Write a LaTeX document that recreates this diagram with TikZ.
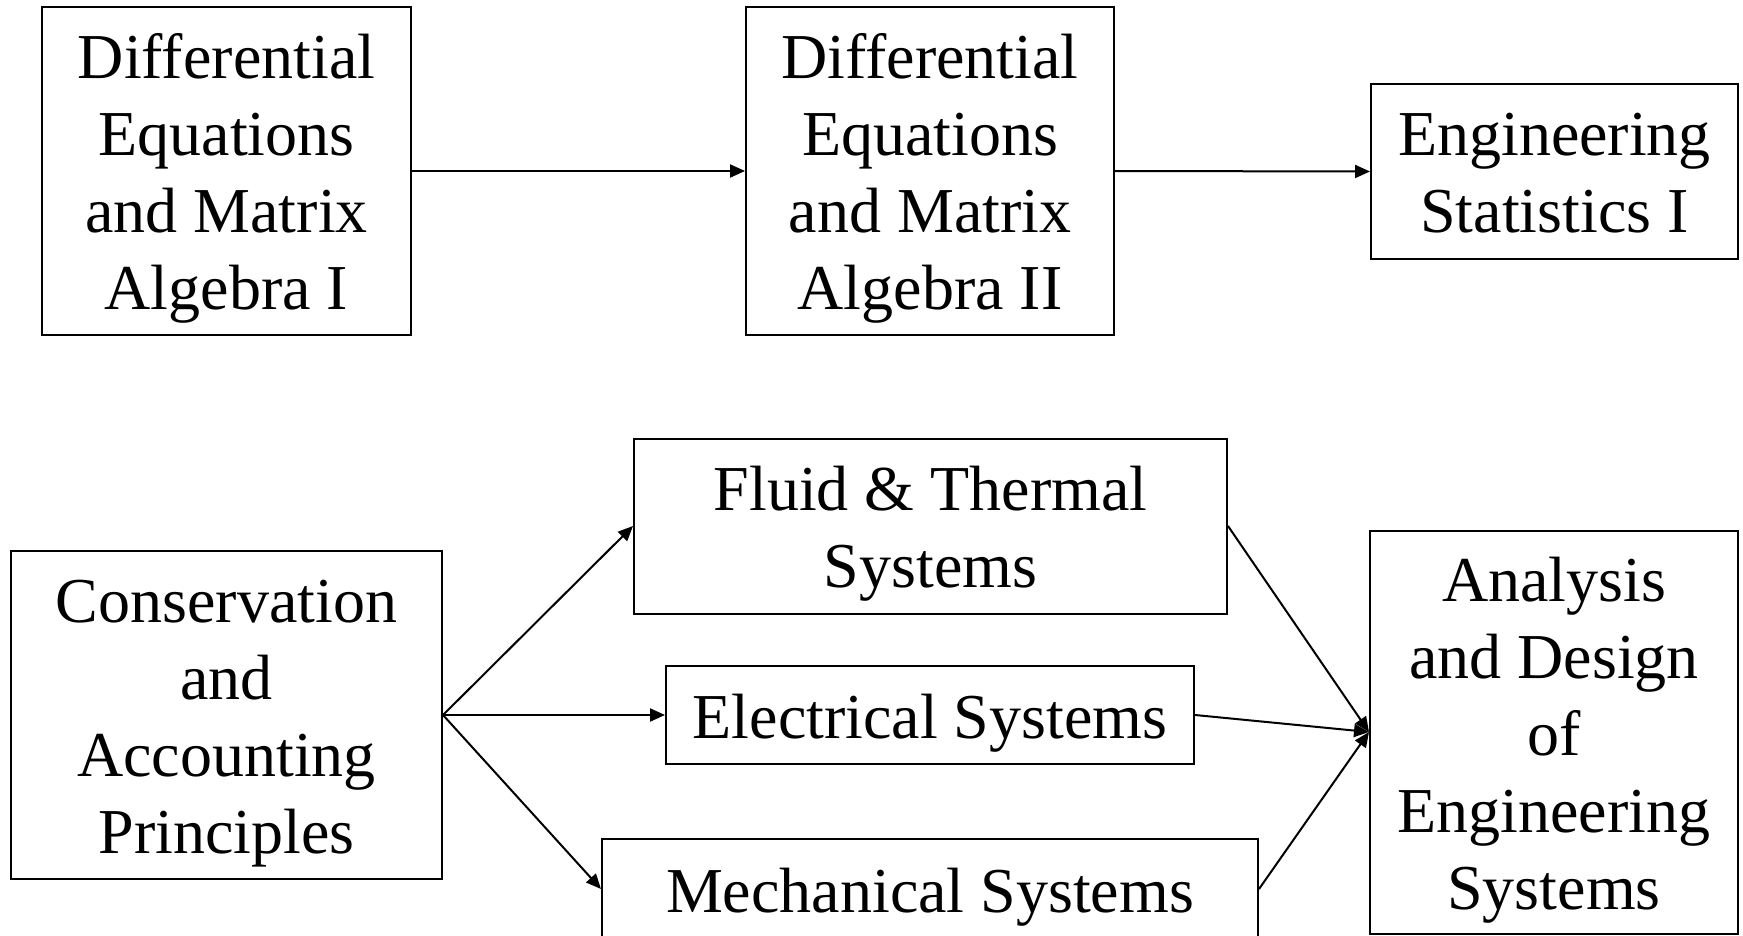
\documentclass[tikz,border=0pt]{standalone}
\usepackage{fontspec}
\setmainfont{Liberation Serif}
\usepackage{tikz}
\usetikzlibrary{positioning,arrows.meta}
% strut for first and last line of a box
\newcommand{\crs}{\rule[-14pt]{0pt}{74pt}}

\begin{document}
\begin{tikzpicture}[x=1pt, y=-1pt,
    course/.style={draw, line width=2pt, align=center, inner sep=0pt,
        font=\fontsize{64}{77}\selectfont},
    arr/.style={-{Triangle[length=15pt, width=13pt]}, line width=2pt}]
    \useasboundingbox (0,0) rectangle (1743,936);
    \clip (0,0) rectangle (1743,936);

    % Mathematics sequence
    \node[course, minimum width=369pt, minimum height=328pt] (dema1) at (226.5,171) {\crs Differential\\Equations\\and Matrix\\Algebra I\crs};
    \node[course, minimum width=368pt, minimum height=327pt] (dema2) at (930,171) {\crs Differential\\Equations\\and Matrix\\Algebra II\crs};
    \node[course, minimum width=367pt, minimum height=175pt] (stat1) at (1554.5,171.5) {\crs Engineering\\Statistics I\crs};

    % Engineering science sequence
    \node[course, minimum width=431pt, minimum height=328pt] (cons) at (226.5,715) {\crs Conservation\\and\\Accounting\\Principles\crs};
    \node[course, minimum width=593pt, minimum height=175pt] (fluid) at (930.5,526) {\crs Fluid \& Thermal\\Systems\crs};
    \node[course, minimum width=528pt, minimum height=98pt] (elec) at (930,715) {\crs Electrical Systems};
    \node[course, minimum width=656pt, minimum height=100pt] (mech) at (930,889) {\crs Mechanical Systems};
    \node[course, minimum width=368pt, minimum height=403pt] (anal) at (1554,732) {\crs Analysis\\and Design\\of\\Engineering\\Systems\crs};

    % Prerequisite arrows
    \draw[arr] (dema1.east) -- (dema2.west);
    \draw[arr] (dema2.east) -- (stat1.west);
    \draw[arr] (cons.east) -- (fluid.west);
    \draw[arr] (cons.east) -- (elec.west);
    \draw[arr] (cons.east) -- (mech.west);
    \draw[arr] (fluid.east) -- (anal.west);
    \draw[arr] (elec.east) -- (anal.west);
    \draw[arr] (mech.east) -- (anal.west);
\end{tikzpicture}
\end{document}
